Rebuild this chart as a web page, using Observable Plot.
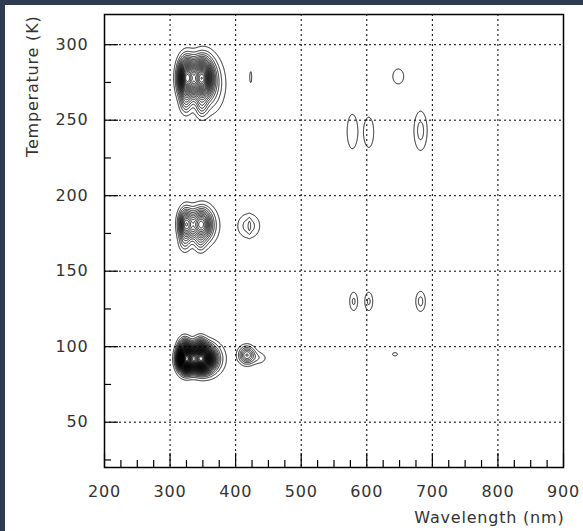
<!DOCTYPE html>
<html>
<head>
<meta charset="utf-8">
<script src="https://cdn.jsdelivr.net/npm/d3@7"></script>
<script src="https://cdn.jsdelivr.net/npm/@observablehq/plot@0.6"></script>
<style>
html, body { margin: 0; padding: 0; background: #2f3b4f; width: 583px; height: 531px; overflow: hidden; }
#chart { position: absolute; left: 5px; top: 5px; width: 578px; height: 526px; background: #fff; }
#chart text { letter-spacing: 0.8px; }
</style>
</head>
<body>
<div id="chart"></div>
<script>
// Axis ticks
const xMajor = [200, 300, 400, 500, 600, 700, 800, 900];
const xMinor = [225, 250, 275, 325, 350, 375, 425, 450, 475, 525, 550, 575, 625, 650, 675, 725, 750, 775, 825, 850, 875];
const yMajor = [50, 100, 150, 200, 250, 300];
const yMinor = [25, 75, 125, 175, 225, 275];
const xGrid = [300, 400, 500, 600, 700, 800];
const yGrid = [50, 100, 150, 200, 250, 300];

// Emission peaks: wavelength (nm), temperature (K), height, widths
const peakWl  = [325, 348, 360, 324, 348, 324, 347, 356, 322, 346, 324, 347, 362, 322, 346, 420, 421, 417, 436, 423, 648, 578, 603, 682, 580, 603, 682, 643];
const peakT   = [278, 278, 274, 261, 259, 181, 181, 180, 168, 168,  92,  92,  92, 101, 101, 180, 180, 94.5, 92.5, 278.5, 279, 242.5, 242, 243, 130, 130, 130, 95];
const peakAmp = [ 20,  20,   4,   3,   3,  12,  12,   2,   2,   2,  36,  36,   4,   4,   4, 2.6, 1.0,   7, 1.6, 1.3, 1.4, 1.9, 1.9, 2.4, 2.2, 2.2, 2.4, 1.2];
const peakSx  = [  8,  10,  15,   6,   6,   7,  10,  15,   6,   6, 7.5,  11,  14,   6,   6,  12, 1.5,   8,   9,   2,  10,   7, 6.6, 7.6, 4.8, 4.8, 5.5, 6];
const peakSy  = [  8,   8,  12,   5,   5, 6.5, 6.5,   9,   4,   4, 5.2, 5.2,   7,   4,   4, 5.8,   4, 3.8,   3,   5,   6,  10, 8.8, 9.8, 4.8, 4.8,   5, 1.8];
const levels  = [1, 2, 3, 4, 5, 6, 7, 8, 9, 10, 11, 12, 13, 14, 15, 16, 17, 18, 19, 20, 21, 22, 23, 24, 25, 26, 27, 28, 29, 30, 31, 32, 33, 34, 35, 36, 37, 38, 39, 40, 41, 42];

function intensity(x, y) {
  let s = 0;
  for (let i = 0; i < peakWl.length; i++) {
    const dx = (x - peakWl[i]) / peakSx[i];
    const dy = (y - peakT[i]) / peakSy[i];
    const r = dx * dx + dy * dy;
    if (r < 50) s += peakAmp[i] * Math.exp(-0.5 * r);
  }
  return s;
}

const pxPerK = 453 / 300;
const pxPerNm = 459 / 700;

const chart = Plot.plot({
  width: 578,
  height: 526,
  marginLeft: 99,
  marginRight: 20,
  marginTop: 9,
  marginBottom: 64,
  x: { domain: [200, 900] },
  y: { domain: [20, 320] },
  style: { fontFamily: "DejaVu Sans, Arial, sans-serif", fontSize: "16px", color: "#333", background: "#fff" },
  marks: [
    Plot.gridX(xGrid, { stroke: "black", strokeOpacity: 1, strokeWidth: 1, strokeDasharray: "2,3" }),
    Plot.gridY(yGrid, { stroke: "black", strokeOpacity: 1, strokeWidth: 1, strokeDasharray: "2,3" }),
    Plot.contour({
      x1: 200, x2: 900, y1: 20, y2: 320,
      value: intensity,
      thresholds: levels,
      pixelSize: 0.5,
      stroke: "black",
      strokeWidth: 0.9,
      fill: "none"
    }),
    Plot.ruleX(xMajor, { x: d => d, y1: 20, y2: 20 + 14 / pxPerK, stroke: "black", strokeWidth: 1.2 }),
    Plot.ruleX(xMinor, { x: d => d, y1: 20, y2: 20 + 7 / pxPerK, stroke: "black", strokeWidth: 1.2 }),
    Plot.ruleY(yMajor, { y: d => d, x1: 200, x2: 200 + 14 / pxPerNm, stroke: "black", strokeWidth: 1.2 }),
    Plot.ruleY(yMinor, { y: d => d, x1: 200, x2: 200 + 7 / pxPerNm, stroke: "black", strokeWidth: 1.2 }),
    Plot.frame({ stroke: "black", strokeWidth: 1.5 }),
    Plot.axisX(xMajor, { tickSize: 0, tickPadding: 18, label: null, fontSize: 16 }),
    Plot.axisY(yMajor, { tickSize: 0, tickPadding: 16, label: null, fontSize: 16 }),
    Plot.text(["Wavelength (nm)"], { frameAnchor: "bottom-right", text: d => d, textAnchor: "end", dy: 55, dx: 1, fontSize: 16, fill: "#333" }),
    Plot.text(["Temperature (K)"], { frameAnchor: "top-left", text: d => d, rotate: -90, textAnchor: "end", dx: -78, dy: 1, fontSize: 16, fill: "#333" })
  ]
});
document.getElementById("chart").appendChild(chart);
</script>
</body>
</html>
